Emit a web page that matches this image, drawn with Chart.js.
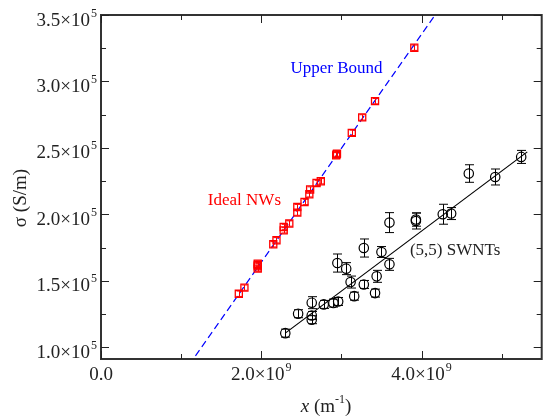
<!DOCTYPE html>
<html>
<head>
<meta charset="utf-8">
<script src="https://cdn.jsdelivr.net/npm/chart.js@4.4.1/dist/chart.umd.min.js"></script>
<style>
  body { margin: 0; background: #fff; }
  canvas { display: block; }
</style>
</head>
<body>
<canvas id="sigma_chart" width="548" height="416"></canvas>
<script>
// Ideal NWs (red squares), x in m^-1, sigma in S/m
const idealX = [3.91e9, 3.42e9, 3.26e9, 3.13e9, 2.935e9, 2.94e9, 2.945e9, 2.743e9, 2.69e9, 2.61e9, 2.60e9,
  2.54e9, 2.45e9, 2.45e9, 2.35e9, 2.28e9, 2.28e9, 2.19e9, 2.15e9, 1.956e9, 1.956e9, 1.956e9, 1.956e9, 1.79e9, 1.72e9];
const idealY = [3.254e5, 2.852e5, 2.73e5, 2.614e5, 2.445e5, 2.452e5, 2.458e5, 2.25e5, 2.237e5, 2.188e5, 2.152e5,
  2.094e5, 2.056e5, 2.014e5, 1.932e5, 1.906e5, 1.881e5, 1.806e5, 1.776e5, 1.63e5, 1.62e5, 1.61e5, 1.593e5, 1.45e5, 1.404e5];
const idealErr = idealY.map(() => 0.02e5);

// (5,5) SWNTs (black circles)
const swntX = [5.244e9, 4.92e9, 4.59e9, 4.37e9, 4.265e9, 3.93e9, 3.93e9, 3.60e9, 3.60e9, 3.50e9, 3.44e9, 3.42e9, 3.28e9,
  3.28e9, 3.16e9, 3.115e9, 3.06e9, 2.95e9, 2.96e9, 2.90e9, 2.78e9, 2.63e9, 2.63e9, 2.63e9, 2.46e9, 2.30e9];
const swntY = [2.433e5, 2.282e5, 2.308e5, 2.007e5, 2.002e5, 1.951e5, 1.962e5, 1.939e5, 1.625e5, 1.718e5, 1.535e5, 1.409e5, 1.748e5,
  1.474e5, 1.386e5, 1.492e5, 1.593e5, 1.635e5, 1.346e5, 1.334e5, 1.324e5, 1.337e5, 1.241e5, 1.209e5, 1.254e5, 1.108e5];
const swntErr = [0.049e5, 0.060e5, 0.066e5, 0.045e5, 0.075e5, 0.06e5, 0.05e5, 0.075e5, 0.045e5, 0.041e5, 0.045e5, 0.03e5, 0.068e5,
  0.03e5, 0.03e5, 0.045e5, 0.045e5, 0.068e5, 0.03e5, 0.03e5, 0.03e5, 0.045e5, 0.03e5, 0.03e5, 0.03e5, 0.03e5];

// lines
const boundX = [1.1e9, 4.2e9];
const boundY = [0.870e5, 3.526e5];
const fitX = [2.30e9, 5.32e9];
const fitY = [1.108e5, 2.471e5];

// axes
const xMin = 0, xMax = 5.5e9, yMin = 0.9135e5, yMax = 3.5e5;
const xTickValues = [0, 2e9, 4e9];
const xTickLabels = ['0.0', '2.0×10', '4.0×10'];
const xTickExps = ['', '9', '9'];
const xMinorValues = [1e9, 3e9, 5e9];
const yTickValues = [1.0e5, 1.5e5, 2.0e5, 2.5e5, 3.0e5, 3.5e5];
const yTickLabels = ['1.0×10', '1.5×10', '2.0×10', '2.5×10', '3.0×10', '3.5×10'];
const yTickExps = ['5', '5', '5', '5', '5', '5'];
const yMinorValues = [1.25e5, 1.75e5, 2.25e5, 2.75e5, 3.25e5];

const FONT = "'Liberation Serif', 'DejaVu Serif', serif";

function pts(xs, ys) {
  return xs.map((x, i) => ({ x: x, y: ys[i] }));
}

const errorBars = {
  id: 'errorBars',
  afterDatasetsDraw(chart) {
    const { ctx, scales: { x, y } } = chart;
    chart.data.datasets.forEach((ds) => {
      if (!ds.errors) return;
      ctx.save();
      ctx.strokeStyle = ds.borderColor;
      ctx.lineWidth = 1;
      ds.data.forEach((p, j) => {
        const px = Math.round(x.getPixelForValue(p.x)) + 0.5;
        const top = y.getPixelForValue(p.y + ds.errors[j]);
        const bot = y.getPixelForValue(p.y - ds.errors[j]);
        ctx.beginPath();
        ctx.moveTo(px, top); ctx.lineTo(px, bot);
        ctx.moveTo(px - ds.capHalf, top); ctx.lineTo(px + ds.capHalf, top);
        ctx.moveTo(px - ds.capHalf, bot); ctx.lineTo(px + ds.capHalf, bot);
        ctx.stroke();
      });
      ctx.restore();
    });
  }
};

function supText(ctx, main, sup, x, y, align) {
  ctx.font = '19px ' + FONT;
  const wm = ctx.measureText(main).width;
  ctx.font = '12px ' + FONT;
  const ws = sup ? ctx.measureText(sup).width + 1 : 0;
  let start = x;
  if (align === 'right') start = x - wm - ws;
  if (align === 'center') start = x - (wm + ws) / 2;
  ctx.textAlign = 'left';
  ctx.textBaseline = 'alphabetic';
  ctx.font = '19px ' + FONT;
  ctx.fillText(main, start, y);
  if (sup) {
    ctx.font = '12px ' + FONT;
    ctx.fillText(sup, start + wm + 1, y - 9);
  }
}

const frame = {
  id: 'frame',
  afterDraw(chart) {
    const { ctx, chartArea: a, scales: { x, y } } = chart;
    ctx.save();
    ctx.strokeStyle = '#333';
    ctx.lineWidth = 2;
    ctx.beginPath();
    ctx.moveTo(a.left, a.top); ctx.lineTo(a.right, a.top);
    ctx.moveTo(a.left, a.bottom); ctx.lineTo(a.right, a.bottom);
    ctx.moveTo(a.left, a.top - 1); ctx.lineTo(a.left, a.bottom + 1);
    ctx.moveTo(a.right, a.top - 1); ctx.lineTo(a.right, a.bottom + 1);
    ctx.stroke();

    ctx.lineWidth = 1;
    ctx.strokeStyle = '#222';
    const xt = (v, len) => {
      const px = Math.round(x.getPixelForValue(v)) + 0.5;
      ctx.moveTo(px, a.bottom); ctx.lineTo(px, a.bottom - len);
      ctx.moveTo(px, a.top); ctx.lineTo(px, a.top + len);
    };
    const yt = (v, len) => {
      const py = Math.round(y.getPixelForValue(v)) + 0.5;
      ctx.moveTo(a.left, py); ctx.lineTo(a.left + len, py);
      ctx.moveTo(a.right, py); ctx.lineTo(a.right - len, py);
    };
    ctx.beginPath();
    xTickValues.forEach((v) => xt(v, 8));
    xMinorValues.forEach((v) => xt(v, 5));
    yTickValues.forEach((v) => yt(v, 8));
    yMinorValues.forEach((v) => yt(v, 5));
    ctx.stroke();

    ctx.fillStyle = '#222';
    xTickValues.forEach((v, i) => {
      supText(ctx, xTickLabels[i], xTickExps[i], x.getPixelForValue(v), a.bottom + 21, 'center');
    });
    yTickValues.forEach((v, i) => {
      supText(ctx, yTickLabels[i], yTickExps[i], a.left - 4, y.getPixelForValue(v) + 10.5, 'right');
    });

    // y title
    ctx.save();
    ctx.translate(21, 198);
    ctx.rotate(-Math.PI / 2);
    ctx.font = '19px ' + FONT;
    ctx.textAlign = 'center';
    ctx.textBaseline = 'middle';
    ctx.fillText('σ (S/m)', 0, 0);
    ctx.restore();

    // x title: x (m^-1)
    const parts = [
      { t: 'x', f: 'italic 19px ' + FONT, dy: 0 },
      { t: ' (m', f: '19px ' + FONT, dy: 0 },
      { t: '-1', f: '12px ' + FONT, dy: -9 },
      { t: ')', f: '19px ' + FONT, dy: 0 }
    ];
    let total = 0;
    parts.forEach((p) => { ctx.font = p.f; p.w = ctx.measureText(p.t).width; total += p.w; });
    let cx = 326 - total / 2;
    ctx.textAlign = 'left';
    ctx.textBaseline = 'alphabetic';
    parts.forEach((p) => { ctx.font = p.f; ctx.fillText(p.t, cx, 412 + p.dy); cx += p.w; });

    // annotations
    ctx.font = '17px ' + FONT;
    ctx.textAlign = 'center';
    ctx.textBaseline = 'middle';
    ctx.fillStyle = '#0000ff';
    ctx.fillText('Upper Bound', x.getPixelForValue(2.94e9), y.getPixelForValue(3.100e5));
    ctx.fillStyle = '#ff0000';
    ctx.fillText('Ideal NWs', x.getPixelForValue(1.79e9), y.getPixelForValue(2.105e5));
    ctx.fillStyle = '#222';
    ctx.fillText('(5,5) SWNTs', x.getPixelForValue(4.42e9), y.getPixelForValue(1.730e5));
    ctx.restore();
  }
};

new Chart(document.getElementById('sigma_chart'), {
  type: 'scatter',
  data: {
    datasets: [
      {
        label: 'Ideal NWs',
        data: pts(idealX, idealY),
        errors: idealErr,
        capHalf: 3,
        pointStyle: 'rect',
        pointRadius: 5,
        borderColor: '#ff0000',
        backgroundColor: 'rgba(0,0,0,0)',
        borderWidth: 1.3
      },
      {
        label: '(5,5) SWNTs',
        data: pts(swntX, swntY),
        errors: swntErr,
        capHalf: 4.5,
        pointStyle: 'circle',
        pointRadius: 4.7,
        borderColor: '#000000',
        backgroundColor: 'rgba(0,0,0,0)',
        borderWidth: 1.2
      },
      {
        label: 'Upper Bound',
        data: pts(boundX, boundY),
        showLine: true,
        pointRadius: 0,
        borderColor: '#0000ff',
        borderWidth: 1.2,
        borderDash: [7, 4]
      },
      {
        label: 'fit',
        data: pts(fitX, fitY),
        showLine: true,
        pointRadius: 0,
        borderColor: '#000000',
        borderWidth: 1.2
      }
    ]
  },
  options: {
    responsive: false,
    devicePixelRatio: 1,
    animation: false,
    layout: { padding: { left: 101, top: 15, right: 0, bottom: 57 } },
    plugins: { legend: { display: false }, tooltip: { enabled: false } },
    scales: {
      x: { type: 'linear', min: xMin, max: xMax, display: false },
      y: { type: 'linear', min: yMin, max: yMax, display: false }
    }
  },
  plugins: [errorBars, frame]
});
</script>
</body>
</html>
